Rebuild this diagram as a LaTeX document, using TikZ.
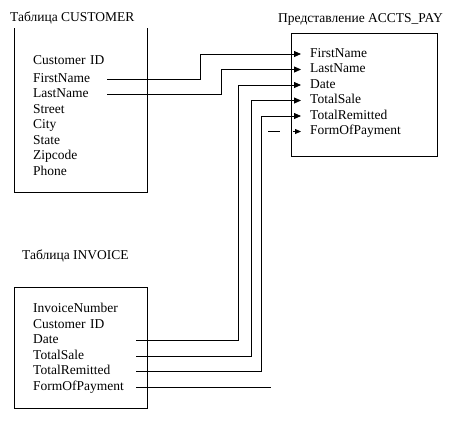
\documentclass[tikz,border=0pt]{standalone}
\usepackage{fontspec}
\setmainfont{Liberation Serif}
\usetikzlibrary{arrows.meta}

\tikzset{
  field/.style={anchor=west, inner xsep=0pt, inner ysep=1pt, align=left,
                text height=9pt, text depth=3pt, font=\fontsize{13.5}{15}\selectfont},
  cfield/.style={field, text width=74pt},
  ifield/.style={field, text width=103pt},
  afield/.style={field, inner xsep=9pt},
  title/.style={anchor=west, inner sep=0pt, font=\fontsize{13.5}{15}\selectfont},
  link/.style={line width=0.8pt},
  arrow/.style={line width=0.8pt, -{Triangle[length=7pt,width=6pt]}}
}

\begin{document}
\begin{tikzpicture}[x=1pt,y=-1pt]
                  \useasboundingbox (0,0) rectangle (455,424);

                  % CUSTOMER table
                  \node[title] (ctitle) at (10,18) {Таблица CUSTOMER};
                  \draw[link] (14,28) -- (14,192) -- (147,192) -- (147,28);
                  \foreach \name/\txt/\y in {cid/Customer ID/61.5, cfn/FirstName/79, cln/LastName/94.5,
                      cst/Street/110, ccity/City/125.5, cstate/State/141, czip/Zipcode/156.5, cph/Phone/172}
                      \node[cfield] (\name) at (33,\y) {\txt};

                  % ACCTS_PAY view
                  \node[title] (atitle) at (278,19) {Представление ACCTS\_PAY};
                  \node[draw, line width=0.8pt, anchor=north west, minimum width=146pt, minimum height=123pt] (accts) at (291,33) {};
                  \foreach \name/\txt/\y in {afn/FirstName/54, aln/LastName/69.5, adate/Date/85,
                      asale/TotalSale/100.5, arem/TotalRemitted/116, afop/FormOfPayment/131.5}
                      \node[afield] (\name) at (301,\y) {\txt};

                  % INVOICE table
                  \node[title] (ititle) at (22,256) {Таблица INVOICE};
                  \node[draw, line width=0.8pt, anchor=north west, minimum width=133pt, minimum height=121pt] (invoice) at (14,287) {};
                  \foreach \name/\txt/\y in {inum/InvoiceNumber/309.5, icid/Customer ID/325, idate/Date/340.5,
                      isale/TotalSale/356, irem/TotalRemitted/371.5, ifop/FormOfPayment/387}
                      \node[ifield] (\name) at (33,\y) {\txt};

                  % connectors
                  \draw[arrow] (cfn.east) -- ++(93,0) |- (afn.west);
                  \draw[arrow] (cln.east) -- ++(114,0) |- (aln.west);
                  \draw[arrow] (idate.east) -- ++(102,0) |- (adate.west);
                  \draw[arrow] (isale.east) -- ++(115,0) |- (asale.west);
                  \draw[arrow] (irem.east) -- ++(125,0) |- (arem.west);

                  \draw[link] (ifop.east) -- ++(135,0) coordinate (fopend);
                  \coordinate (fopdash) at ([xshift=-33pt]afop.west);
                  \draw[link] (fopdash) -- ++(12,0);
                  \draw[line width=0.8pt, -{Triangle[length=6pt,width=5pt]}] ([xshift=-8pt]afop.west) -- (afop.west);
              \end{tikzpicture}
\end{document}
